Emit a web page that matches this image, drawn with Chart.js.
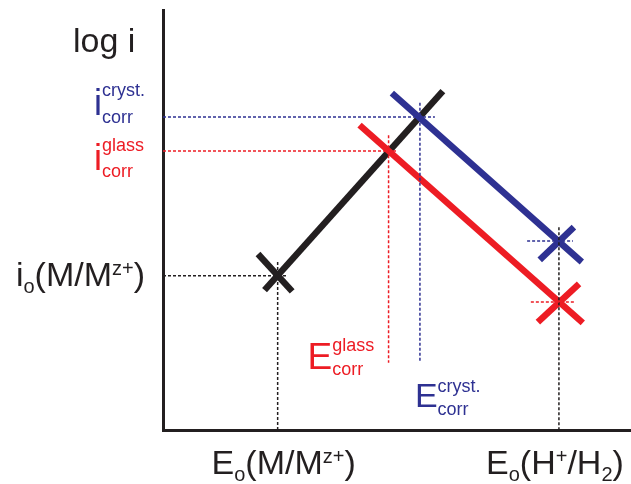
<!DOCTYPE html>
<html>
<head>
<meta charset="utf-8">
<script src="https://cdn.jsdelivr.net/npm/chart.js@4"></script>
<style>
    html, body { margin: 0; padding: 0; background: #ffffff; }
    #evansChart { display: block; }
</style>
</head>
<body>
<canvas id="evansChart" width="631" height="484"></canvas>
<script>
// Evans diagram: log i versus potential E (arbitrary units 0..100)

const BLACK = '#231f20';
const BLUE = '#2e3192';
const RED = '#ed1c24';
const FONT = '"Liberation Sans", Arial, Helvetica, sans-serif';

// Characteristic potentials
const potentialNames = ['Eo(M/Mz+)', 'Ecorr glass', 'Ecorr cryst.', 'Eo(H+/H2)'];
const potentialValues = [24.5, 48.2, 54.9, 84.6];

// Characteristic currents (log i)
const currentNames = ['io(M/Mz+)', 'icorr glass', 'icorr cryst.', 'io H+ cryst.', 'io H+ glass'];
const currentValues = [36.7, 66.4, 74.5, 45.0, 30.5];

// Polarisation lines
const anodicMetal = [{ x: 21.7, y: 33.3 }, { x: 59.8, y: 80.7 }];
const cathodicCryst = [{ x: 48.9, y: 80.2 }, { x: 89.5, y: 40.0 }];
const cathodicGlass = [{ x: 42.0, y: 72.6 }, { x: 89.7, y: 25.5 }];

// Second stroke of each exchange-current cross
const crossMetal = [{ x: 20.3, y: 41.9 }, { x: 27.6, y: 33.0 }];
const crossCryst = [{ x: 80.5, y: 40.5 }, { x: 87.8, y: 48.3 }];
const crossGlass = [{ x: 80.1, y: 25.7 }, { x: 88.9, y: 34.8 }];

// Dotted guide lines
const guideMetalH = [{ x: 0, y: 36.7 }, { x: 26.4, y: 36.7 }];
const guideMetalV = [{ x: 24.5, y: 40.0 }, { x: 24.5, y: 0 }];
const guideCrystH = [{ x: 0, y: 74.5 }, { x: 58.1, y: 74.5 }];
const guideCrystV = [{ x: 54.9, y: 77.9 }, { x: 54.9, y: 16.0 }];
const guideGlassH = [{ x: 0, y: 66.4 }, { x: 50.0, y: 66.4 }];
const guideGlassV = [{ x: 48.2, y: 70.2 }, { x: 48.2, y: 16.0 }];
const guideHydCryst = [{ x: 77.8, y: 45.0 }, { x: 87.6, y: 45.0 }];
const guideHydGlass = [{ x: 78.6, y: 30.5 }, { x: 87.8, y: 30.5 }];
const guideHydV = [{ x: 84.6, y: 48.3 }, { x: 84.6, y: 0 }];

function dotted(data, color) {
    return {
        data: data,
        showLine: true,
        borderColor: color,
        borderWidth: 1.5,
        borderDash: [3, 2],
        pointRadius: 0,
        fill: false
    };
}

function solid(data, color) {
    return {
        data: data,
        showLine: true,
        borderColor: color,
        borderWidth: 6.5,
        borderCapStyle: 'butt',
        pointRadius: 0,
        fill: false
    };
}

// Draw a run of text pieces; each piece may be shifted up/down and sized differently
function drawRun(ctx, parts, x, y, align, color) {
    ctx.fillStyle = color;
    ctx.textBaseline = 'alphabetic';
    ctx.textAlign = 'left';
    let total = 0;
    parts.forEach(p => {
        ctx.font = p.size + 'px ' + FONT;
        p.w = ctx.measureText(p.t).width;
        total += p.w;
    });
    let cx = x;
    if (align === 'right') cx = x - total;
    if (align === 'center') cx = x - total / 2;
    parts.forEach(p => {
        ctx.font = p.size + 'px ' + FONT;
        ctx.fillText(p.t, cx, y + (p.dy || 0));
        cx += p.w;
    });
}

// Symbol with stacked superscript and subscript
function drawStacked(ctx, base, baseSize, sup, supDy, sub, subDy, x, y, color) {
    ctx.fillStyle = color;
    ctx.textBaseline = 'alphabetic';
    ctx.textAlign = 'left';
    ctx.font = baseSize + 'px ' + FONT;
    ctx.fillText(base, x, y);
    const bx = x + ctx.measureText(base).width;
    ctx.font = '18px ' + FONT;
    ctx.fillText(sup, bx, y + supDy);
    ctx.fillText(sub, bx, y + subDy);
}

const labelPlugin = {
    id: 'evansLabels',
    afterDraw(chart) {
        const ctx = chart.ctx;
        const xs = chart.scales.x;
        const ys = chart.scales.y;
        const area = chart.chartArea;
        ctx.save();

        // axis title
        ctx.fillStyle = BLACK;
        ctx.font = '34px ' + FONT;
        ctx.textAlign = 'left';
        ctx.textBaseline = 'alphabetic';
        ctx.fillText('log i', area.left - 90, area.top + 42);

        // current labels on the log i axis
        drawRun(ctx, [
            { t: 'i', size: 34 },
            { t: 'o', size: 20, dy: 7 },
            { t: '(M/M', size: 34 },
            { t: 'z+', size: 20, dy: -11 },
            { t: ')', size: 34 }
        ], area.left - 18, ys.getPixelForValue(currentValues[0]) + 10, 'right', BLACK);

        drawStacked(ctx, 'i', 36, 'cryst.', -19, 'corr', 8,
            area.left - 69, ys.getPixelForValue(currentValues[2]) - 2, BLUE);
        drawStacked(ctx, 'i', 36, 'glass', -19, 'corr', 7,
            area.left - 69, ys.getPixelForValue(currentValues[1]) + 19, RED);

        // potential labels under the E axis
        const baseY = area.bottom + 44;
        drawRun(ctx, [
            { t: 'E', size: 34 },
            { t: 'o', size: 20, dy: 7 },
            { t: '(M/M', size: 34 },
            { t: 'z+', size: 20, dy: -11 },
            { t: ')', size: 34 }
        ], xs.getPixelForValue(potentialValues[0]) + 6, baseY, 'center', BLACK);
        drawRun(ctx, [
            { t: 'E', size: 34 },
            { t: 'o', size: 20, dy: 7 },
            { t: '(H', size: 34 },
            { t: '+', size: 20, dy: -11 },
            { t: '/H', size: 34 },
            { t: '2', size: 20, dy: 7 },
            { t: ')', size: 34 }
        ], xs.getPixelForValue(potentialValues[3]) - 4, baseY, 'center', BLACK);

        // corrosion potential labels
        drawStacked(ctx, 'E', 37, 'glass', -18, 'corr', 6,
            xs.getPixelForValue(potentialValues[1]) - 81, area.bottom - 61, RED);
        drawStacked(ctx, 'E', 34, 'cryst.', -15, 'corr', 8,
            xs.getPixelForValue(potentialValues[2]) - 5, area.bottom - 23, BLUE);

        ctx.restore();
    }
};

const axisStyle = {
    type: 'linear',
    min: 0,
    max: 100,
    ticks: { display: false },
    grid: { display: false, drawTicks: false },
    border: { display: true, color: BLACK, width: 3 }
};

new Chart(document.getElementById('evansChart'), {
    type: 'scatter',
    data: {
        datasets: [
            dotted(guideMetalH, BLACK),
            dotted(guideMetalV, BLACK),
            dotted(guideCrystH, BLUE),
            dotted(guideCrystV, BLUE),
            dotted(guideGlassH, RED),
            dotted(guideGlassV, RED),
            dotted(guideHydCryst, BLUE),
            dotted(guideHydGlass, RED),
            dotted(guideHydV, BLACK),
            solid(crossCryst, BLUE),
            solid(crossGlass, RED),
            solid(cathodicCryst, BLUE),
            solid(cathodicGlass, RED),
            solid(crossMetal, BLACK),
            solid(anodicMetal, BLACK)
        ]
    },
    options: {
        responsive: false,
        animation: false,
        layout: { padding: { left: 163, top: 10, right: 0, bottom: 54 } },
        plugins: {
            legend: { display: false },
            tooltip: { enabled: false }
        },
        scales: {
            x: axisStyle,
            y: axisStyle
        }
    },
    plugins: [labelPlugin]
});
</script>
</body>
</html>
